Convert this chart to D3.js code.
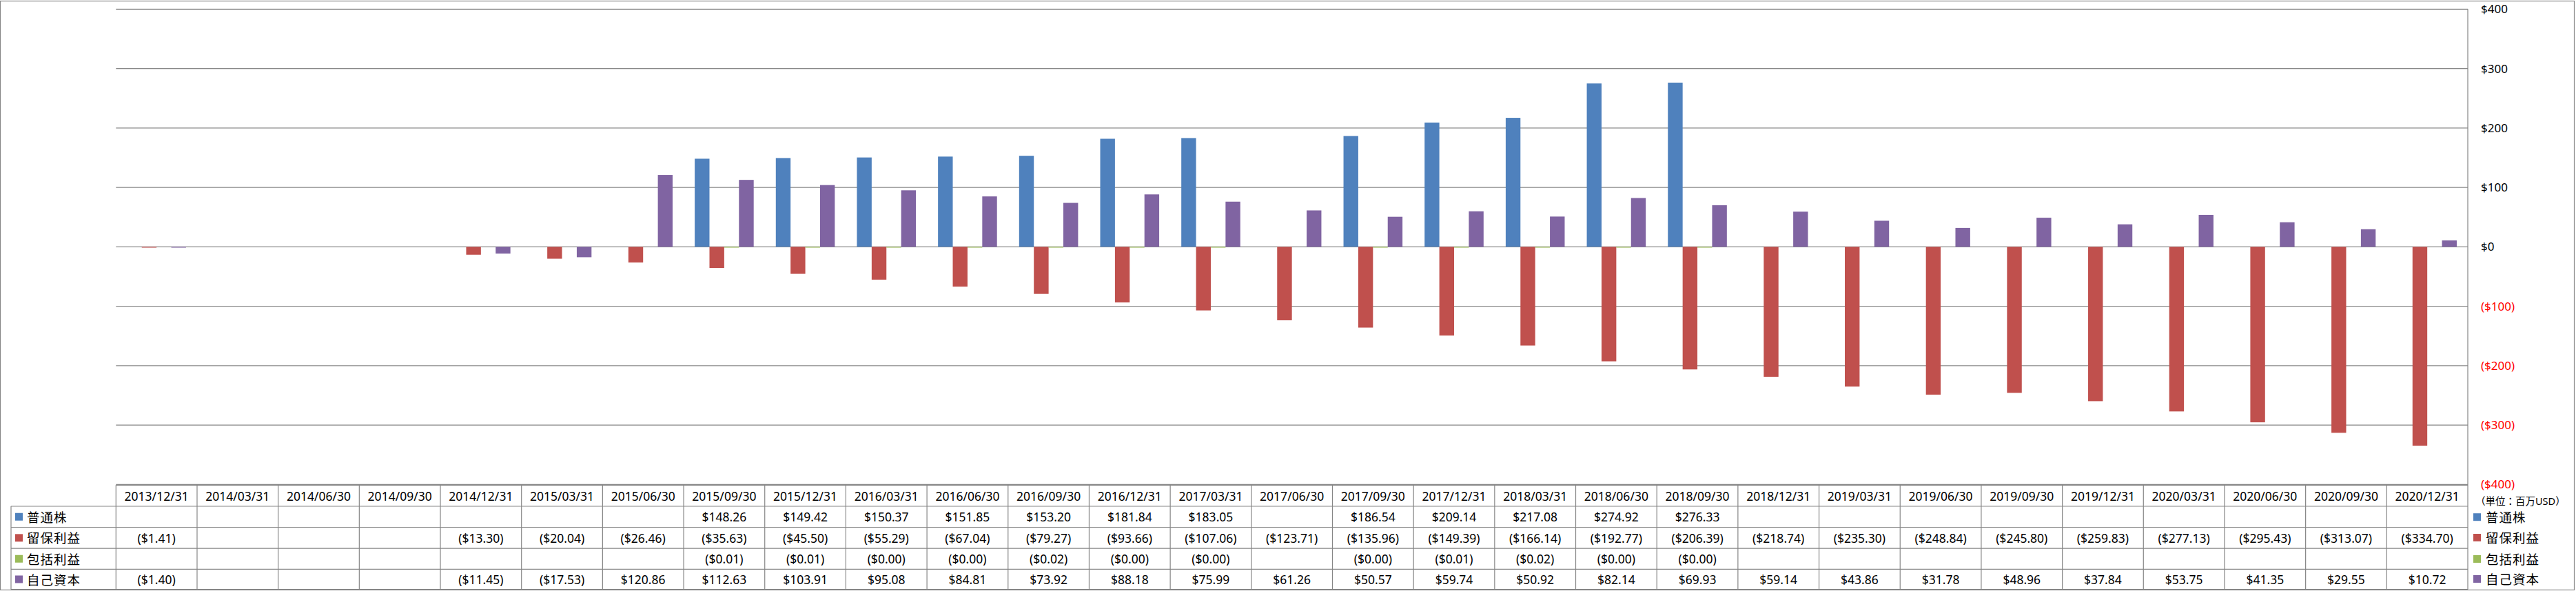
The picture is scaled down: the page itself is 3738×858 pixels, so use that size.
<!DOCTYPE html>
<html>
<head>
<meta charset="utf-8">
<script src="https://cdn.jsdelivr.net/npm/d3@7"></script>
<style>
  html, body { margin: 0; padding: 0; background: #fff; }
  svg { display: block; }
  text { font-family: "Noto Sans", "Noto Sans CJK JP", sans-serif; }
</style>
</head>
<body>
<svg id="chart" width="3738" height="858"></svg>
<script>
// ---- Data ----
const categories = [
  "2013/12/31","2014/03/31","2014/06/30","2014/09/30","2014/12/31","2015/03/31","2015/06/30",
  "2015/09/30","2015/12/31","2016/03/31","2016/06/30","2016/09/30","2016/12/31","2017/03/31",
  "2017/06/30","2017/09/30","2017/12/31","2018/03/31","2018/06/30","2018/09/30","2018/12/31",
  "2019/03/31","2019/06/30","2019/09/30","2019/12/31","2020/03/31","2020/06/30","2020/09/30","2020/12/31"
];
const seriesNames = ["普通株", "留保利益", "包括利益", "自己資本"];
const seriesColors = ["#4F81BD", "#C0504D", "#9BBB59", "#8064A2"];

const commonStock = [null,null,null,null,null,null,null,148.26,149.42,150.37,151.85,153.20,181.84,183.05,
  null,186.54,209.14,217.08,274.92,276.33,null,null,null,null,null,null,null,null,null];
const retainedEarnings = [-1.41,null,null,null,-13.30,-20.04,-26.46,-35.63,-45.50,-55.29,-67.04,-79.27,-93.66,-107.06,
  -123.71,-135.96,-149.39,-166.14,-192.77,-206.39,-218.74,-235.30,-248.84,-245.80,-259.83,-277.13,-295.43,-313.07,-334.70];
const comprehensiveIncome = [null,null,null,null,null,null,null,-0.01,-0.01,-0.001,-0.001,-0.02,-0.001,-0.001,
  null,-0.001,-0.01,-0.02,-0.001,-0.001,null,null,null,null,null,null,null,null,null];
const equity = [-1.40,null,null,null,-11.45,-17.53,120.86,112.63,103.91,95.08,84.81,73.92,88.18,75.99,
  61.26,50.57,59.74,50.92,82.14,69.93,59.14,43.86,31.78,48.96,37.84,53.75,41.35,29.55,10.72];

const seriesValues = [commonStock, retainedEarnings, comprehensiveIncome, equity];
const yTicks = [400, 300, 200, 100, 0, -100, -200, -300, -400];
const unitLabel = "（単位：百万USD）";

// ---- Layout ----
const svg = d3.select("#chart");
const plotLeft = 168.3, plotRight = 3581, plotTop = 13.3, plotBottom = 703.3;
const headerTop = 704.3, rowTops = [735, 765.5, 796.2, 826.3], tableBottom = 855.7;
const rowLabelLeft = 16;
const grid = "#868686";

const x = d3.scaleBand().domain(categories).range([plotLeft, plotRight]).padding(0);
const xs = d3.scaleBand().domain(d3.range(4)).range([0, x.bandwidth()]).paddingInner(0).paddingOuter(0.75);
const y = d3.scaleLinear().domain([-400, 400]).range([plotBottom, plotTop]);

const money = v => {
  const s = "$" + d3.format(",.2f")(Math.abs(v));
  return v < 0 ? "(" + s + ")" : s;
};
const moneyTick = v => {
  const s = "$" + d3.format(",")(Math.abs(v));
  return v < 0 ? "(" + s + ")" : s;
};

// outer border
svg.append("rect").attr("x", 0.5).attr("y", 1.5).attr("width", 3735).attr("height", 855)
  .attr("fill", "none").attr("stroke", grid).attr("stroke-width", 1.2);

// gridlines
svg.append("g").selectAll("line").data(yTicks).join("line")
  .attr("x1", plotLeft).attr("x2", plotRight)
  .attr("y1", d => y(d)).attr("y2", d => y(d))
  .attr("stroke", grid).attr("stroke-width", 1.2);

// bars
const barData = [];
seriesValues.forEach((arr, si) => arr.forEach((v, ci) => {
  if (v !== null) barData.push({ si, c: categories[ci], v });
}));
svg.append("g").selectAll("rect").data(barData).join("rect")
  .attr("x", d => x(d.c) + xs(d.si))
  .attr("width", xs.bandwidth())
  .attr("y", d => d.v >= 0 ? y(d.v) : y(0))
  .attr("height", d => Math.max(1.2, Math.abs(y(d.v) - y(0))))
  .attr("fill", d => seriesColors[d.si]);

// right axis
const axis = d3.axisRight(y).tickValues(yTicks).tickFormat(moneyTick).tickSize(0).tickPadding(0);
const ag = svg.append("g").attr("transform", `translate(3600,0)`).call(axis);
ag.select(".domain").remove();
ag.selectAll("text")
  .attr("font-size", 17)
  .attr("font-family", "'Noto Sans', sans-serif")
  .attr("fill", d => d < 0 ? "#FF0000" : "#000");

// plot right border (continues through table)
svg.append("line").attr("x1", plotRight).attr("x2", plotRight).attr("y1", plotTop).attr("y2", tableBottom)
  .attr("stroke", grid).attr("stroke-width", 1.2);

// ---- Data table ----
const tg = svg.append("g");
// header top line
tg.append("line").attr("x1", plotLeft).attr("x2", plotRight).attr("y1", headerTop).attr("y2", headerTop)
  .attr("stroke", grid).attr("stroke-width", 1.2);
// row lines
rowTops.concat([tableBottom]).forEach(yy => {
  tg.append("line").attr("x1", rowLabelLeft).attr("x2", plotRight).attr("y1", yy).attr("y2", yy)
    .attr("stroke", grid).attr("stroke-width", 1.2);
});
// vertical lines
tg.append("line").attr("x1", rowLabelLeft).attr("x2", rowLabelLeft).attr("y1", rowTops[0]).attr("y2", tableBottom)
  .attr("stroke", grid).attr("stroke-width", 1.2);
tg.selectAll("line.col").data(categories).join("line").attr("class", "col")
  .attr("x1", d => x(d)).attr("x2", d => x(d)).attr("y1", headerTop).attr("y2", tableBottom)
  .attr("stroke", grid).attr("stroke-width", 1.2);

// header labels
tg.selectAll("text.hdr").data(categories).join("text").attr("class", "hdr")
  .attr("x", d => x(d) + x.bandwidth() / 2).attr("y", (headerTop + rowTops[0]) / 2)
  .attr("text-anchor", "middle").attr("dominant-baseline", "central")
  .attr("font-size", 17.5).attr("fill", "#000").text(d => d);

const rowCenters = rowTops.map((t, i) => (t + (rowTops[i + 1] || tableBottom)) / 2);

// row labels with keys
seriesNames.forEach((name, si) => {
  const cy = rowCenters[si];
  tg.append("rect").attr("x", 22).attr("y", cy - 5.5).attr("width", 11).attr("height", 11)
    .attr("fill", seriesColors[si]);
  tg.append("text").attr("x", 39).attr("y", cy).attr("dominant-baseline", "central")
    .attr("font-family", "'Noto Sans CJK JP', sans-serif")
    .attr("font-size", 18.5).attr("letter-spacing", 1).attr("fill", "#000").text(name);
  // values
  seriesValues[si].forEach((v, ci) => {
    if (v === null) return;
    tg.append("text").attr("x", x(categories[ci]) + x.bandwidth() / 2).attr("y", cy)
      .attr("text-anchor", "middle").attr("dominant-baseline", "central")
      .attr("font-size", 17.5).attr("fill", "#000").text(money(v));
  });
});

// right-side legend + unit
const lg = svg.append("g");
lg.append("text").attr("x", 3592).attr("y", 727).attr("dominant-baseline", "central")
  .attr("font-family", "'Noto Sans CJK JP', sans-serif")
  .attr("font-size", 14.5).attr("fill", "#000").text(unitLabel);
const legendRows = [750.7, 780.5, 811.5, 840.5];
seriesNames.forEach((name, si) => {
  lg.append("rect").attr("x", 3589).attr("y", legendRows[si] - 5.5).attr("width", 11).attr("height", 11)
    .attr("fill", seriesColors[si]);
  lg.append("text").attr("x", 3607).attr("y", legendRows[si]).attr("dominant-baseline", "central")
    .attr("font-family", "'Noto Sans CJK JP', sans-serif")
    .attr("font-size", 18.5).attr("letter-spacing", 1).attr("fill", "#000").text(name);
});
</script>
</body>
</html>
